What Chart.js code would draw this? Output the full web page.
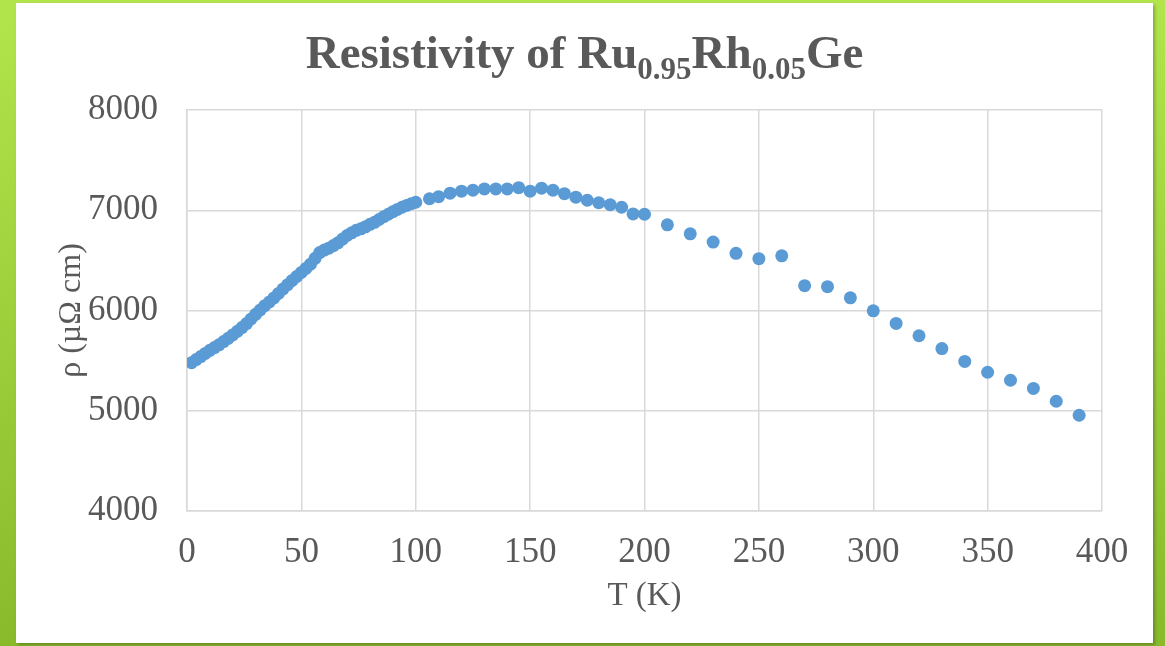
<!DOCTYPE html>
<html>
<head>
<meta charset="utf-8">
<script src="https://cdn.jsdelivr.net/npm/chart.js@4"></script>
<style>
  html, body { margin: 0; padding: 0; }
  body {
    width: 1165px; height: 646px; overflow: hidden;
    background: linear-gradient(to bottom, #b2e54b, #88ba2c);
    position: relative;
  }
  .card {
    position: absolute; left: 16px; top: 3px; width: 1137px; height: 640px;
    background: #fff;
    box-shadow: 2px 2px 3px rgba(0,0,0,0.25);
  }
  canvas { display: block; }
</style>
</head>
<body>
<div class="card"><canvas id="myChart" width="1137" height="640"></canvas></div>
<script>
// temperature (K) and resistivity (µΩ cm)
var temps = [2, 4, 6, 8, 10, 12, 14, 16, 18, 20, 22, 24, 26, 28, 30, 32, 34, 36, 38, 40,
    42, 44, 46, 48, 50, 52, 54, 56, 58, 60, 62, 64, 66, 68, 70, 72, 74, 76, 78, 80,
    82, 84, 86, 88, 90, 92, 94, 96, 98, 100,
    106, 110, 115, 120, 125, 130, 135, 140, 145, 150, 155, 160, 165, 170, 175, 180, 185, 190, 195, 200,
    210, 220, 230, 240, 250, 260, 270, 280, 290, 300, 310, 320, 330, 340, 350, 360, 370, 380, 390];
var rho = [5480, 5510, 5540, 5572, 5603, 5630, 5658, 5690, 5722, 5756, 5792, 5830, 5870, 5915, 5962, 6005, 6048, 6085, 6125, 6170,
    6215, 6258, 6300, 6340, 6380, 6420, 6462, 6520, 6578, 6603, 6622, 6648, 6675, 6712, 6748, 6775, 6800, 6815, 6835, 6860,
    6880, 6908, 6935, 6960, 6985, 7008, 7030, 7048, 7065, 7080,
    7115, 7135, 7170, 7190, 7200, 7213, 7213, 7213, 7225, 7190, 7220, 7200, 7165, 7130, 7100, 7075, 7055, 7030, 6963, 6960,
    6855, 6765, 6683, 6570, 6517, 6545, 6248, 6238, 6126, 5997, 5871, 5748, 5620, 5492, 5384, 5304, 5223, 5095, 4955];

var titleParts = [
    { text: 'Resistivity of Ru', sub: false },
    { text: '0.95', sub: true },
    { text: 'Rh', sub: false },
    { text: '0.05', sub: true },
    { text: 'Ge', sub: false }
];

var points = temps.map(function (t, i) { return { x: t, y: rho[i] }; });

var textGray = '#595959';
var gridGray = '#d9d9d9';

// title with subscripts, drawn as text on the canvas
var richTitle = {
    id: 'richTitle',
    afterDraw: function (chart) {
        var c = chart.ctx;
        var big = 'bold 47px "Liberation Serif"';
        var small = 'bold 31px "Liberation Serif"';
        c.save();
        c.fillStyle = textGray;
        c.textBaseline = 'alphabetic';
        var total = 0;
        titleParts.forEach(function (p) {
            c.font = p.sub ? small : big;
            p.w = c.measureText(p.text).width;
            total += p.w;
        });
        var x = chart.width / 2 - total / 2;
        var base = 65;
        titleParts.forEach(function (p) {
            c.font = p.sub ? small : big;
            c.fillText(p.text, x, p.sub ? base + 11 : base);
            x += p.w;
        });
        c.restore();
    }
};

var ctx = document.getElementById('myChart').getContext('2d');
var chart = new Chart(ctx, {
    type: 'scatter',
    data: {
        datasets: [{
            data: points,
            backgroundColor: '#5b9bd5',
            borderColor: '#5b9bd5',
            borderWidth: 0,
            pointRadius: 6.5,
            pointHoverRadius: 6.5
        }]
    },
    options: {
        responsive: false,
        animation: false,
        layout: { padding: { top: 107, left: 0, right: 51, bottom: 0 } },
        plugins: {
            legend: { display: false },
            tooltip: { enabled: false }
        },
        scales: {
            x: {
                type: 'linear',
                min: 0,
                max: 400,
                afterFit: function (s) { s.height = 132; },
                ticks: {
                    stepSize: 50,
                    color: textGray,
                    padding: 21,
                    maxRotation: 0,
                    font: { family: 'Liberation Serif', size: 35 }
                },
                grid: { color: gridGray, lineWidth: 1.5, drawTicks: false },
                border: { color: gridGray, width: 1.5 },
                title: {
                    display: true,
                    text: 'T (K)',
                    color: textGray,
                    padding: { top: 0, bottom: 27 },
                    font: { family: 'Liberation Serif', size: 33 }
                }
            },
            y: {
                min: 4000,
                max: 8000,
                afterFit: function (s) { s.width = 171; },
                ticks: {
                    stepSize: 1000,
                    color: textGray,
                    padding: 29,
                    callback: function (v) { return String(v); },
                    font: { family: 'Liberation Serif', size: 35 }
                },
                grid: { color: gridGray, lineWidth: 1.5, drawTicks: false },
                border: { color: gridGray, width: 1.5 },
                title: {
                    display: true,
                    text: 'ρ (µΩ cm)',
                    color: textGray,
                    padding: { top: 36, bottom: 0 },
                    font: { family: 'Liberation Serif', size: 32 }
                }
            }
        }
    },
    plugins: [richTitle]
});
</script>
</body>
</html>
